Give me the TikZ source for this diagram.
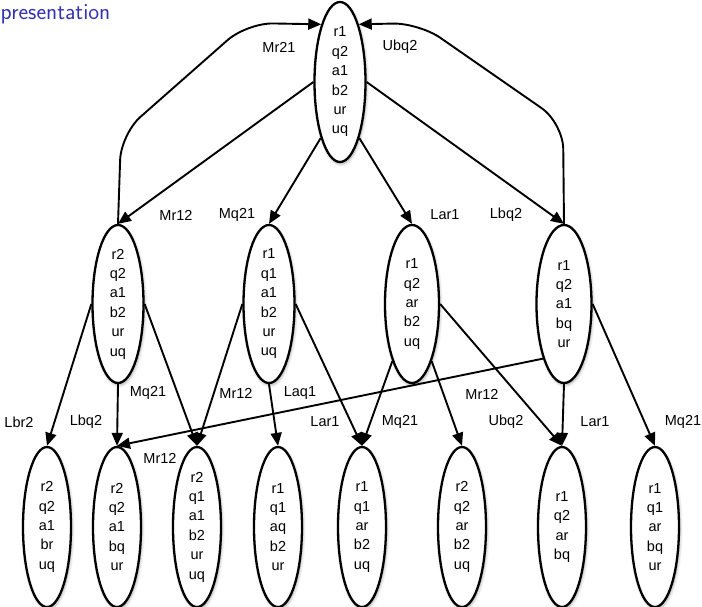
\documentclass[tikz,border=0pt]{standalone}
\usepackage{fontspec}
\setmainfont{Liberation Sans}
\usetikzlibrary{shapes.geometric,arrows.meta,shadows.blur}
\definecolor{beamerblue}{RGB}{51,51,178}
\begin{document}
\begin{tikzpicture}[x=1pt,y=-1pt,
  st/.style={ellipse, draw, line width=2.3pt, fill=white, minimum width=51pt, minimum height=158pt, inner sep=0pt,
     blur shadow={shadow xshift=1pt, shadow yshift=-2pt, shadow blur steps=6, shadow blur radius=3pt, shadow opacity=35}},
  bt/.style={st, minimum width=48pt, minimum height=160pt},
  txt/.style={font=\fontsize{14.5}{19.4}\selectfont, align=center, inner sep=0pt},
  edge/.style={line width=1.9pt, -{Triangle[length=13pt,width=11pt]}},
  lab/.style={font=\fontsize{14.5}{17}\selectfont, inner sep=0pt}]
\useasboundingbox (0,0) rectangle (702,607);

\node[anchor=base west, inner sep=0pt, text=beamerblue, font=\sffamily\fontsize{23}{28}\selectfont] (title) at (0.5,19.5) {presentation};

% top
\node[st, minimum height=160pt, label={[txt]center:{r1\\q2\\a1\\b2\\ur\\uq}}] (top) at (340,82) {};
% middle
\node[st, label={[txt]center:{r2\\q2\\a1\\b2\\ur\\uq}}] (m1) at (118,304) {};
\node[st, label={[txt]center:{r1\\q1\\a1\\b2\\ur\\uq}}] (m2) at (269,304) {};
\node[st, minimum width=54pt, label={[txt]center:{r1\\q2\\ar\\b2\\uq}}] (m3) at (412,304) {};
\node[st, minimum width=55pt, label={[txt]center:{r1\\q2\\a1\\bq\\ur}}] (m4) at (564,304) {};
% bottom
\node[bt, label={[txt]center:{r2\\q2\\a1\\br\\uq}}] (b1) at (47,527) {};
\node[bt, label={[txt]center:{r2\\q2\\a1\\bq\\ur}}] (b2) at (117,527) {};
\node[bt, label={[txt]center:{r2\\q1\\a1\\b2\\ur\\uq}}] (b3) at (197,527) {};
\node[bt, label={[txt]center:{r1\\q1\\aq\\b2\\ur}}] (b4) at (278,527) {};
\node[bt, label={[txt]center:{r1\\q1\\ar\\b2\\uq}}] (b5) at (362,527) {};
\node[bt, label={[txt]center:{r2\\q2\\ar\\b2\\uq}}] (b6) at (462,527) {};
\node[bt, label={[txt]center:{r1\\q2\\ar\\bq}}] (b7) at (562,527) {};
\node[bt, label={[txt]center:{r1\\q1\\ar\\bq\\ur}}] (b8) at (655,527) {};

% curved edges back to top
\draw[edge, rounded corners=26pt] (m1.north) -- (121,134) -- (247,23) -- (top.108);
\draw[edge, rounded corners=26pt] (m4.north) -- (563,123) -- (419,23) -- (top.72);

% top to middle
\draw[edge] (top.west) -- (m1.north);
\draw[edge] (top.-109) -- (m2.north);
\draw[edge] (top.-71) -- (m3.north);
\draw[edge] (top.east) -- (m4.north);

% middle to bottom
\draw[edge] (m1.west) -- (b1.north);
\draw[edge] (m1.south) -- (b2.north);
\draw[edge] (m1.east) -- (b3.north);
\draw[edge] (m2.west) -- (b3.north);
\draw[edge] (m2.south) -- (b4.north);
\draw[edge] (m2.east) -- (b5.north);
\draw[edge] (m3.-109) -- (b5.north);
\draw[edge] (m3.-71) -- (b6.north);
\draw[edge] (m3.east) -- (b7.north);
\draw[edge] (m4.south) -- (b7.north);
\draw[edge] (m4.east) -- (b8.north);
\draw[edge] (m4.-111) -- (b2.north);

% labels
\node[lab] (l1) at (279,47) {Mr21};
\node[lab] (l2) at (400,47) {Ubq2};
\node[lab] (l3) at (176,215) {Mr12};
\node[lab] (l4) at (237,215) {Mq21};
\node[lab] (l5) at (445,215) {Lar1};
\node[lab] (l6) at (506,215) {Lbq2};
\node[lab] (l7) at (148,393) {Mq21};
\node[lab] (l8) at (236,393) {Mr12};
\node[lab] (l9) at (300,393) {Laq1};
\node[lab] (l10) at (482,394) {Mr12};
\node[lab] (l11) at (19,422) {Lbr2};
\node[lab] (l12) at (86,422) {Lbq2};
\node[lab] (l13) at (325,422) {Lar1};
\node[lab] (l14) at (400,422) {Mq21};
\node[lab] (l15) at (506,422) {Ubq2};
\node[lab] (l16) at (595,422) {Lar1};
\node[lab] (l17) at (683,422) {Mq21};
\node[lab] (l18) at (160,458) {Mr12};
\end{tikzpicture}
\end{document}
